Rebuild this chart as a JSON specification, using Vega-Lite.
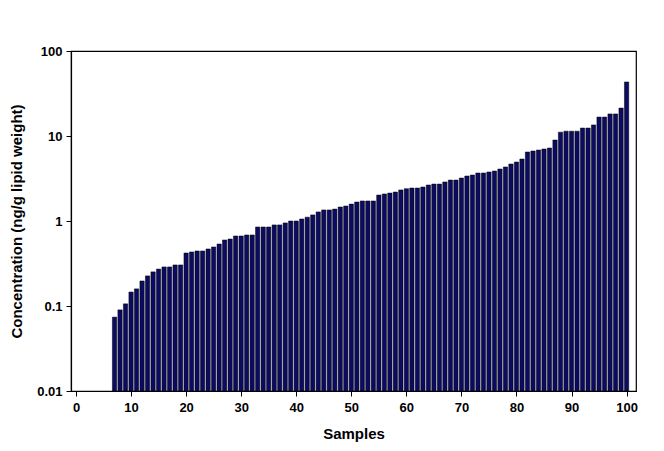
{
  "$schema": "https://vega.github.io/schema/vega-lite/v6.json",
  "width": 565,
  "height": 340,
  "autosize": {"type": "none"},
  "padding": {"left": 71, "top": 51, "right": 28, "bottom": 60},
  "background": "white",
  "config": {
    "view": {"stroke": "black", "strokeWidth": 1.2},
    "font": "Liberation Sans"
  },
  "data": {
    "values": [
      {"sample": 7, "value": 0.074},
      {"sample": 8, "value": 0.09},
      {"sample": 9, "value": 0.106},
      {"sample": 10, "value": 0.146},
      {"sample": 11, "value": 0.159},
      {"sample": 12, "value": 0.197},
      {"sample": 13, "value": 0.226},
      {"sample": 14, "value": 0.252},
      {"sample": 15, "value": 0.272},
      {"sample": 16, "value": 0.288},
      {"sample": 17, "value": 0.288},
      {"sample": 18, "value": 0.304},
      {"sample": 19, "value": 0.304},
      {"sample": 20, "value": 0.42},
      {"sample": 21, "value": 0.432},
      {"sample": 22, "value": 0.444},
      {"sample": 23, "value": 0.444},
      {"sample": 24, "value": 0.469},
      {"sample": 25, "value": 0.495},
      {"sample": 26, "value": 0.536},
      {"sample": 27, "value": 0.598},
      {"sample": 28, "value": 0.614},
      {"sample": 29, "value": 0.666},
      {"sample": 30, "value": 0.666},
      {"sample": 31, "value": 0.685},
      {"sample": 32, "value": 0.685},
      {"sample": 33, "value": 0.85},
      {"sample": 34, "value": 0.85},
      {"sample": 35, "value": 0.85},
      {"sample": 36, "value": 0.9},
      {"sample": 37, "value": 0.9},
      {"sample": 38, "value": 0.95},
      {"sample": 39, "value": 1.0},
      {"sample": 40, "value": 1.0},
      {"sample": 41, "value": 1.055},
      {"sample": 42, "value": 1.11},
      {"sample": 43, "value": 1.18},
      {"sample": 44, "value": 1.28},
      {"sample": 45, "value": 1.35},
      {"sample": 46, "value": 1.35},
      {"sample": 47, "value": 1.38},
      {"sample": 48, "value": 1.46},
      {"sample": 49, "value": 1.5},
      {"sample": 50, "value": 1.58},
      {"sample": 51, "value": 1.67},
      {"sample": 52, "value": 1.72},
      {"sample": 53, "value": 1.72},
      {"sample": 54, "value": 1.72},
      {"sample": 55, "value": 2.02},
      {"sample": 56, "value": 2.08},
      {"sample": 57, "value": 2.13},
      {"sample": 58, "value": 2.19},
      {"sample": 59, "value": 2.32},
      {"sample": 60, "value": 2.4},
      {"sample": 61, "value": 2.44},
      {"sample": 62, "value": 2.44},
      {"sample": 63, "value": 2.51},
      {"sample": 64, "value": 2.65},
      {"sample": 65, "value": 2.72},
      {"sample": 66, "value": 2.72},
      {"sample": 67, "value": 2.88},
      {"sample": 68, "value": 3.03},
      {"sample": 69, "value": 3.03},
      {"sample": 70, "value": 3.2},
      {"sample": 71, "value": 3.38},
      {"sample": 72, "value": 3.47},
      {"sample": 73, "value": 3.67},
      {"sample": 74, "value": 3.67},
      {"sample": 75, "value": 3.77},
      {"sample": 76, "value": 3.87},
      {"sample": 77, "value": 4.09},
      {"sample": 78, "value": 4.32},
      {"sample": 79, "value": 4.68},
      {"sample": 80, "value": 4.94},
      {"sample": 81, "value": 5.36},
      {"sample": 82, "value": 6.48},
      {"sample": 83, "value": 6.66},
      {"sample": 84, "value": 6.84},
      {"sample": 85, "value": 7.03},
      {"sample": 86, "value": 7.22},
      {"sample": 87, "value": 8.97},
      {"sample": 88, "value": 11.1},
      {"sample": 89, "value": 11.4},
      {"sample": 90, "value": 11.4},
      {"sample": 91, "value": 11.4},
      {"sample": 92, "value": 12.4},
      {"sample": 93, "value": 12.4},
      {"sample": 94, "value": 13.5},
      {"sample": 95, "value": 16.7},
      {"sample": 96, "value": 16.7},
      {"sample": 97, "value": 18.2},
      {"sample": 98, "value": 18.2},
      {"sample": 99, "value": 21.3},
      {"sample": 100, "value": 43.2}
    ]
  },
  "mark": {"type": "bar", "width": 4.3, "fill": "#0b0b62", "stroke": "#000000", "strokeWidth": 0.5},
  "encoding": {
    "x": {
      "field": "sample",
      "type": "quantitative",
      "scale": {"domain": [0, 100.8], "nice": false, "zero": false},
      "axis": {
        "title": "Samples",
        "values": [0, 10, 20, 30, 40, 50, 60, 70, 80, 90, 100],
        "grid": false,
        "domainColor": "black",
        "domainWidth": 1.2,
        "tickColor": "black",
        "tickSize": 5,
        "labelColor": "black",
        "labelFontSize": 13,
        "labelFontWeight": "bold",
        "labelPadding": 5,
        "titleColor": "black",
        "titleFontSize": 15,
        "titleFontWeight": "bold",
        "titlePadding": 12
      }
    },
    "y": {
      "field": "value",
      "type": "quantitative",
      "scale": {"type": "log", "domain": [0.01, 100], "nice": false},
      "axis": {
        "title": "Concentration (ng/g lipid weight)",
        "values": [0.01, 0.1, 1, 10, 100],
        "format": "~g",
        "grid": false,
        "domainColor": "black",
        "domainWidth": 1.2,
        "tickColor": "black",
        "tickSize": 5,
        "labelColor": "black",
        "labelFontSize": 13,
        "labelFontWeight": "bold",
        "labelPadding": 4,
        "titleColor": "black",
        "titleFontSize": 15,
        "titleFontWeight": "bold",
        "titlePadding": 12
      }
    },
    "y2": {"datum": 0.01}
  }
}
